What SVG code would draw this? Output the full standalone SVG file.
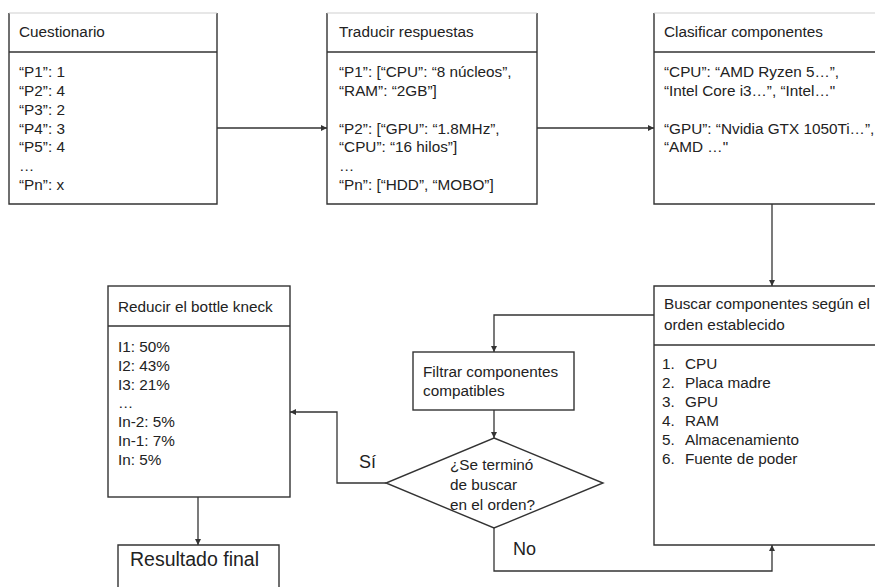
<svg xmlns="http://www.w3.org/2000/svg" width="875" height="587" viewBox="0 0 875 587">
  <style>
    .box { fill: #ffffff; stroke: #333333; stroke-width: 1.4; }
    .div { stroke: #333333; stroke-width: 1.4; }
    .topedge { stroke: #d0d0d0; stroke-width: 1.2; }
    .t { font-family: "Liberation Sans", Arial, sans-serif; font-size: 15.3px; fill: #222222; }
    .big { font-family: "Liberation Sans", Arial, sans-serif; font-size: 18px; fill: #222222; }
    .res { font-family: "Liberation Sans", Arial, sans-serif; font-size: 19.5px; fill: #222222; }
    .edge { fill: none; stroke: #333333; stroke-width: 1.3; }
  </style>
  <defs>
    <marker id="arrow" viewBox="0 0 8 8" refX="8" refY="4" markerWidth="6" markerHeight="6" markerUnits="userSpaceOnUse" orient="auto">
      <path d="M0,0 L8,4 L0,8 z" fill="#333333"/>
    </marker>
  </defs>
  <rect width="875" height="587" fill="#ffffff"/>

  <!-- top row -->
  <g id="cuestionario">
    <path class="box" d="M9,13 V204 H217 V13"/>
    <line class="topedge" x1="9" y1="13" x2="217" y2="13"/>
    <line class="div" x1="9" y1="52" x2="217" y2="52"/>
    <text class="t" x="19" y="37">Cuestionario</text>
    <text class="t" x="19" y="77">“P1”: 1</text>
    <text class="t" x="19" y="96">“P2”: 4</text>
    <text class="t" x="19" y="115">“P3”: 2</text>
    <text class="t" x="19" y="134">“P4”: 3</text>
    <text class="t" x="19" y="152">“P5”: 4</text>
    <text class="t" x="19" y="171">…</text>
    <text class="t" x="19" y="190">“Pn”: x</text>
  </g>

  <g id="traducir">
    <path class="box" d="M327,13 V204 H537 V13"/>
    <line class="topedge" x1="327" y1="13" x2="537" y2="13"/>
    <line class="div" x1="327" y1="52" x2="537" y2="52"/>
    <text class="t" x="339" y="37">Traducir respuestas</text>
    <text class="t" x="339" y="77">“P1”: [“CPU”: “8 núcleos”,</text>
    <text class="t" x="339" y="96">“RAM”: “2GB”]</text>
    <text class="t" x="339" y="134">“P2”: [“GPU”: “1.8MHz”,</text>
    <text class="t" x="339" y="152">“CPU”: “16 hilos”]</text>
    <text class="t" x="339" y="171">…</text>
    <text class="t" x="339" y="190">“Pn”: [“HDD”, “MOBO”]</text>
  </g>

  <g id="clasificar">
    <path class="box" d="M880,204 H654 V13"/>
    <line class="topedge" x1="654" y1="13" x2="880" y2="13"/>
    <line class="div" x1="654" y1="52" x2="880" y2="52"/>
    <text class="t" x="664" y="37">Clasificar componentes</text>
    <text class="t" x="664" y="77">“CPU”: “AMD Ryzen 5…”,</text>
    <text class="t" x="664" y="96">“Intel Core i3…”, “Intel…"</text>
    <text class="t" x="664" y="134">“GPU”: “Nvidia GTX 1050Ti…”,</text>
    <text class="t" x="664" y="152">“AMD …"</text>
  </g>

  <!-- middle / bottom -->
  <g id="buscar">
    <path class="box" d="M880,286 H654 V545 H880"/>
    <line class="div" x1="654" y1="345" x2="880" y2="345"/>
    <text class="t" x="664" y="309">Buscar componentes según el</text>
    <text class="t" x="664" y="330">orden establecido</text>
    <text class="t" x="662" y="369">1.</text><text class="t" x="685" y="369">CPU</text>
    <text class="t" x="662" y="388">2.</text><text class="t" x="685" y="388">Placa madre</text>
    <text class="t" x="662" y="407">3.</text><text class="t" x="685" y="407">GPU</text>
    <text class="t" x="662" y="426">4.</text><text class="t" x="685" y="426">RAM</text>
    <text class="t" x="662" y="445">5.</text><text class="t" x="685" y="445">Almacenamiento</text>
    <text class="t" x="662" y="464">6.</text><text class="t" x="685" y="464">Fuente de poder</text>
  </g>

  <g id="filtrar">
    <rect class="box" x="413" y="352" width="161" height="58"/>
    <text class="t" x="423" y="377">Filtrar componentes</text>
    <text class="t" x="423" y="396">compatibles</text>
  </g>

  <g id="decision">
    <polygon class="box" points="494,438 603,483 494,528 386,483"/>
    <text class="t" x="450" y="470">¿Se terminó</text>
    <text class="t" x="450" y="490">de buscar</text>
    <text class="t" x="450" y="510">en el orden?</text>
  </g>

  <g id="reducir">
    <rect class="box" x="108" y="286" width="182" height="211"/>
    <line class="div" x1="108" y1="326" x2="290" y2="326"/>
    <text class="t" x="118" y="312">Reducir el bottle kneck</text>
    <text class="t" x="118" y="352">I1: 50%</text>
    <text class="t" x="118" y="371">I2: 43%</text>
    <text class="t" x="118" y="390">I3: 21%</text>
    <text class="t" x="118" y="408">…</text>
    <text class="t" x="118" y="427">In-2: 5%</text>
    <text class="t" x="118" y="446">In-1: 7%</text>
    <text class="t" x="118" y="465">In: 5%</text>
  </g>

  <g id="resultado">
    <path class="box" d="M118,595 V545 H279 V595"/>
    <text class="res" x="130" y="566">Resultado final</text>
  </g>

  <g id="connectors">
    <line class="edge" x1="217" y1="128" x2="327" y2="128" marker-end="url(#arrow)"/>
    <line class="edge" x1="537" y1="128" x2="654" y2="128" marker-end="url(#arrow)"/>
    <line class="edge" x1="772" y1="204" x2="772" y2="286" marker-end="url(#arrow)"/>
    <polyline class="edge" points="654,315 494,315 494,352" marker-end="url(#arrow)"/>
    <line class="edge" x1="494" y1="410" x2="494" y2="438" marker-end="url(#arrow)"/>
    <polyline class="edge" points="386,483 337,483 337,412 290,412" marker-end="url(#arrow)"/>
    <polyline class="edge" points="494,528 494,571 772,571 772,545" marker-end="url(#arrow)"/>
    <line class="edge" x1="198" y1="497" x2="198" y2="545" marker-end="url(#arrow)"/>
    <text class="big" x="359" y="468">Sí</text>
    <text class="big" x="513" y="555">No</text>
  </g>
</svg>
